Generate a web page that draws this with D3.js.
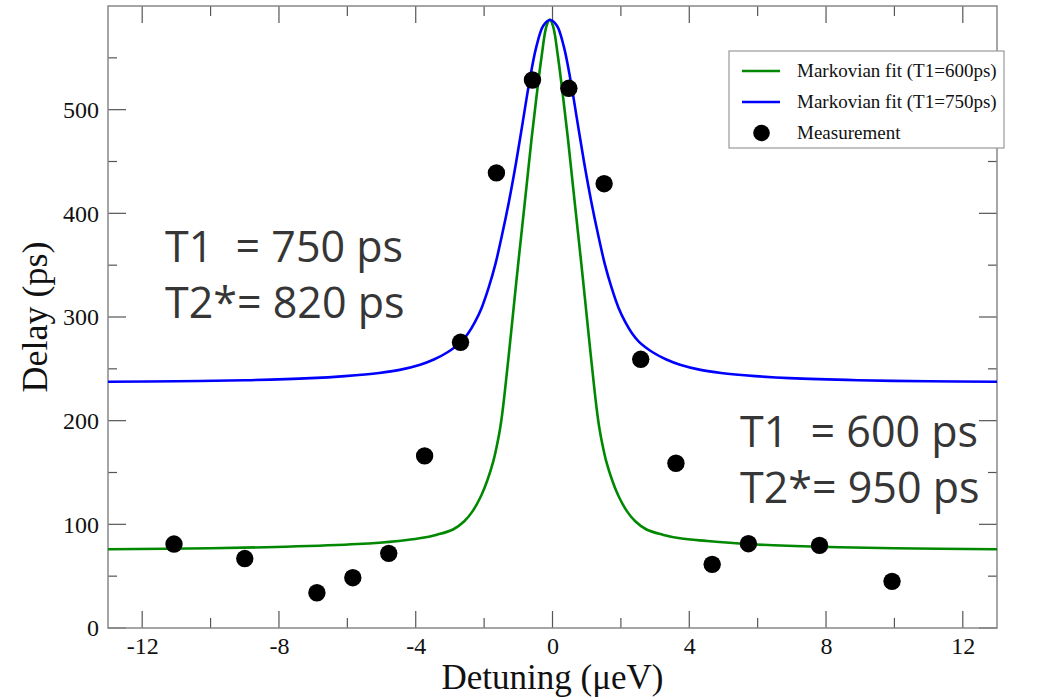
<!DOCTYPE html>
<html><head><meta charset="utf-8">
<script src="https://cdnjs.cloudflare.com/ajax/libs/d3/7.8.5/d3.min.js"></script>
<style>body{margin:0;background:#fff}svg{display:block}</style>
</head><body>
<svg id="chart" width="1058" height="698"></svg>
<script>
// ---- data ----
const xMajorTicks = [-12, -8, -4, 0, 4, 8, 12];
const xMinorTicks = [-10, -6, -2, 2, 6, 10];
const yMajorTicks = [0, 100, 200, 300, 400, 500];
const yMinorTicks = [50, 150, 250, 350, 450, 550];

const measX = [-11.07, -9.0, -6.89, -5.84, -4.79, -3.74, -2.69, -1.64, -0.586, 0.478, 1.51, 2.58, 3.61, 4.67, 5.73, 7.81, 9.93];
const measY = [81, 67, 34, 48.5, 72, 166, 275.6, 439, 528.6, 520.6, 428.6, 259.2, 158.9, 61.4, 81.3, 79.7, 45];

const greenX = [-13, -10, -7.8, -5.7, -4.5, -3.89, -3.38, -2.91, -2.58, -2.33, -2.08, -1.91, -1.73, -1.62, -1.53, -1.45, -1.28, -1.13, -1.02, -0.91, -0.76, -0.615, -0.47, -0.32, -0.18, -0.08, 0.02, 0.16, 0.31, 0.455, 0.60, 0.75, 0.86, 0.97, 1.12, 1.29, 1.37, 1.46, 1.57, 1.75, 1.92, 2.17, 2.42, 2.75, 3.22, 3.73, 4.5, 5.7, 7.8, 10, 13];
const greenY = [76, 77, 78.4, 81, 84, 86.5, 90, 95, 103, 113, 128, 142, 161, 177, 193, 212, 263, 311, 346, 380, 426, 471, 512, 551, 580, 587, 580, 551, 512, 471, 426, 380, 346, 311, 263, 212, 193, 177, 161, 142, 128, 113, 103, 95, 90, 86.5, 84, 81, 78.4, 77, 76];

const blueX = [-13, -11, -9, -7.07, -6.07, -5.07, -4.47, -3.87, -3.47, -3.07, -2.67, -2.47, -2.27, -2.07, -1.87, -1.67, -1.47, -1.27, -1.07, -0.87, -0.67, -0.47, -0.27, -0.07, 0.13, 0.33, 0.53, 0.73, 0.93, 1.13, 1.33, 1.53, 1.73, 1.93, 2.13, 2.33, 2.53, 2.93, 3.33, 3.73, 4.33, 4.93, 5.93, 6.93, 8.93, 11, 13];
const blueY = [237.5, 238, 239, 241, 243, 246, 249, 254, 259, 266, 276, 284, 295, 309, 328, 351, 380, 412, 448, 488, 528, 561, 581, 586.5, 581, 561, 528, 488, 448, 412, 380, 351, 328, 309, 295, 284, 276, 266, 259, 254, 249, 246, 243, 241, 239, 238, 237.5];

const legendLabels = ["Markovian fit (T1=600ps)", "Markovian fit (T1=750ps)", "Measurement"];
const seriesColors = ["#008800", "#0000ff", "#000000"];
const noteLeft = ["T1  = 750 ps", "T2*= 820 ps"];
const noteRight = ["T1  = 600 ps", "T2*= 950 ps"];
const xTitle = "Detuning (\u03bceV)";
const yTitle = "Delay (ps)";

// ---- layout ----
const svg = d3.select("#chart");
const L = 108, R = 997, T = 6, B = 628;
const x = d3.scaleLinear().domain([-13, 13]).range([L, R]);
const y = d3.scaleLinear().domain([0, 600]).range([B, T]);
const serif = "'Liberation Serif', 'Times New Roman', serif";

svg.append("clipPath").attr("id", "clip").append("rect")
  .attr("x", L).attr("y", T).attr("width", R - L).attr("height", B - T);

// ticks (inward)
const tickColor = "#555";
const tg = svg.append("g");
function drawTicks(vals, len, orient) {
  vals.forEach(v => {
    const l = tg.append("line");
    if (orient === "bottom") l.attr("x1", x(v)).attr("x2", x(v)).attr("y1", B).attr("y2", B - len);
    if (orient === "top") l.attr("x1", x(v)).attr("x2", x(v)).attr("y1", T).attr("y2", T + len);
    if (orient === "left") l.attr("y1", y(v)).attr("y2", y(v)).attr("x1", L).attr("x2", L + len);
    if (orient === "right") l.attr("y1", y(v)).attr("y2", y(v)).attr("x1", R).attr("x2", R - len);
  });
}
["bottom", "top"].forEach(o => { drawTicks(xMajorTicks, 17, o); drawTicks(xMinorTicks, 10, o); });
["left", "right"].forEach(o => { drawTicks(yMajorTicks, 18, o); drawTicks(yMinorTicks, 9, o); });
tg.selectAll("line").attr("stroke", tickColor).attr("stroke-width", 1.2);

// frame
svg.append("rect").attr("x", L).attr("y", T).attr("width", R - L).attr("height", B - T)
  .attr("fill", "none").attr("stroke", "#888").attr("stroke-width", 1.5);

// tick labels via axis generators (tick lines hidden)
const xAxis = svg.append("g").attr("transform", `translate(0,${B})`)
  .call(d3.axisBottom(x).tickValues(xMajorTicks).tickSize(0).tickPadding(9).tickFormat(d => String(d)));
xAxis.select(".domain").remove();
xAxis.selectAll("text").attr("font-family", serif).attr("font-size", 24).attr("fill", "#111").attr("dy", "0.71em");

const yAxis = svg.append("g").attr("transform", `translate(${L},0)`)
  .call(d3.axisLeft(y).tickValues(yMajorTicks).tickSize(0).tickPadding(9).tickFormat(d => String(d)));
yAxis.select(".domain").remove();
yAxis.selectAll("text").attr("font-family", serif).attr("font-size", 24).attr("fill", "#111");

// curves
const line = d3.line().x(d => x(d[0])).y(d => y(d[1])).curve(d3.curveCatmullRom.alpha(0.5));
const plot = svg.append("g").attr("clip-path", "url(#clip)");
plot.append("path").datum(d3.zip(greenX, greenY)).attr("d", line)
  .attr("fill", "none").attr("stroke", seriesColors[0]).attr("stroke-width", 2.6);
plot.append("path").datum(d3.zip(blueX, blueY)).attr("d", line)
  .attr("fill", "none").attr("stroke", seriesColors[1]).attr("stroke-width", 2.6);

// measurements
plot.selectAll("circle.m").data(d3.zip(measX, measY)).join("circle").attr("class", "m")
  .attr("cx", d => x(d[0])).attr("cy", d => y(d[1])).attr("r", 8.7).attr("fill", seriesColors[2]);

// annotations
const sans = "'Open Sans', 'Liberation Sans', sans-serif";
function note(lines, px, py) {
  lines.forEach((t, i) => svg.append("text").attr("x", px).attr("y", py + i * 56)
    .attr("font-family", sans).attr("font-size", 43).attr("fill", "#363636")
    .style("white-space", "pre").attr("xml:space", "preserve").text(t));
}
note(noteLeft, 165, 262);
note(noteRight, 740, 447);

// axis titles
svg.append("text").attr("x", (L + R) / 2).attr("y", 689).attr("text-anchor", "middle")
  .attr("font-family", serif).attr("font-size", 35).attr("fill", "#111").text(xTitle);
svg.append("text").attr("transform", `translate(47,${(T + B) / 2}) rotate(-90)`).attr("text-anchor", "middle")
  .attr("font-family", serif).attr("font-size", 36).attr("fill", "#111").text(yTitle);

// legend
const lg = svg.append("g");
lg.append("rect").attr("x", 729).attr("y", 51).attr("width", 275).attr("height", 97)
  .attr("fill", "#fff").attr("stroke", "#999").attr("stroke-width", 1.2);
const rowY = [71, 102, 133];
legendLabels.forEach((lab, i) => {
  if (i < 2) lg.append("line").attr("x1", 742).attr("x2", 780).attr("y1", rowY[i]).attr("y2", rowY[i])
    .attr("stroke", seriesColors[i]).attr("stroke-width", 2.6);
  else lg.append("circle").attr("cx", 761.5).attr("cy", rowY[i]).attr("r", 8.3).attr("fill", seriesColors[i]);
  lg.append("text").attr("x", 797).attr("y", rowY[i] + 6).attr("font-family", serif).attr("font-size", 19)
    .attr("fill", "#111").text(lab);
});
</script>
</body></html>
